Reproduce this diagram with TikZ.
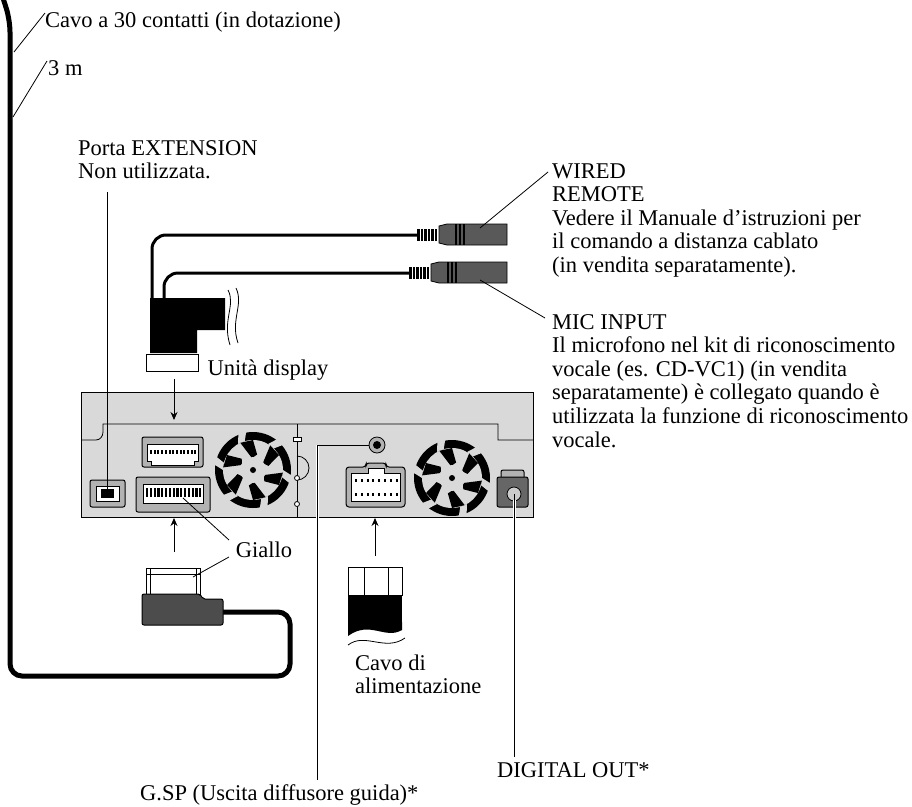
\documentclass[tikz,border=0pt]{standalone}
\usepackage{fontspec}
\setmainfont{Liberation Serif}
\usetikzlibrary{arrows.meta}
\begin{document}
\begin{tikzpicture}[x=1pt,y=-1pt,
  lbl/.style={anchor=base west,inner sep=0pt,font=\fontsize{22.5}{23.6}\selectfont,align=left},
  lead/.style={line width=0.8pt},
  arr/.style={line width=0.9pt,-{Stealth[length=8pt,width=7pt]}},
  thick cable/.style={line width=5pt,rounded corners=12pt},
  cable/.style={line width=3pt,rounded corners=14pt}]
\useasboundingbox (0,0) rectangle (912,806);
% main 30 pin cable
\draw[thick cable] (3,-2) -- (10,20) -- (10,676) -- (290,676) -- (290,612) -- (222,612);
% labels top-left
\node[lbl] (c30) at (45,27) {Cavo a 30 contatti (in dotazione)};
\draw[lead] (45,13) -- (14,52);
\node[lbl] (m3) at (48,75) {3 m};
\draw[lead] (47,61) -- (13,117);
% unit
\fill[gray!30] (81,392) rectangle (533,517);
\draw[line width=1pt] (81,392) rectangle (533,517);
\draw[line width=0.8pt] (81,440) -- (96,440) to[out=0,in=-90] (103,432) -- (103,424) -- (498,424) -- (498,440) -- (533,440);
\draw[line width=0.8pt] (297,424) -- (297,517);
\draw[line width=0.8pt,fill=white] (293,437) rectangle (301,441);
\draw[line width=0.8pt] (297,480) arc (-90:-270:-12 and -12);
\draw[line width=0.8pt,fill=white] (297,478) circle (2.5) (297,504) circle (2.5);
% extension port
\draw[line width=1pt,fill=gray!60,rounded corners=2pt] (90,480) rectangle (125,507);
\draw[line width=0.8pt,fill=white] (96,486) rectangle (119,501);
\fill (101,489) rectangle (114,498);
% upper connector
\draw[line width=1pt,fill=gray!60,rounded corners=2pt] (142,437) rectangle (203,467);
\draw[line width=0.8pt,fill=white] (147,444) -- (198,444) -- (198,461) -- (194,461) -- (194,465) -- (151,465) -- (151,461) -- (147,461) -- cycle;
\foreach \i in {0,...,12} \fill (150+3.7*\i,450) rectangle ++(2,4);
% yellow connector
\draw[line width=1pt,fill=gray!60,rounded corners=2pt] (136,477) rectangle (210,512);
\draw[line width=0.8pt,fill=white] (143,484) rectangle (203,503);
\foreach \i in {0,...,14} \fill (146+3.8*\i,488) rectangle ++(2.2,9);
% fans
\foreach \cx/\cy in {253/470,452/478}{
  \fill (\cx,\cy) circle (38);
  \fill[gray!30] (\cx,\cy) circle (30);
  \foreach \a in {0,60,...,300}{
    \fill[gray!30] ([shift={(\a:30)}]\cx,\cy) -- ([shift={(\a+8:39)}]\cx,\cy) -- ([shift={(\a+20:39)}]\cx,\cy) -- ([shift={(\a+14:30)}]\cx,\cy) -- cycle;
    \fill ([shift={(\a+25:12)}]\cx,\cy) -- ([shift={(\a+5:30)}]\cx,\cy) -- ([shift={(\a+30:30)}]\cx,\cy) -- ([shift={(\a+45:16)}]\cx,\cy) -- cycle;
  }
  \fill[gray!30] (\cx,\cy) circle (13);
  \fill (\cx,\cy) circle (3);
}
% jack
\draw[line width=0.8pt,fill=gray!60] (377,445) circle (8);
\fill (377,445) circle (4);
% power connector
\draw[line width=1pt,fill=gray!60,rounded corners=3pt] (346,467) -- (366,467) -- (366,463) -- (386,463) -- (386,467) -- (405,467) -- (405,507) -- (346,507) -- cycle;
\draw[line width=0.8pt,fill=white] (351,473) -- (368,473) -- (368,468) -- (384,468) -- (384,473) -- (400,473) -- (400,501) -- (351,501) -- cycle;
\foreach \i in {0,...,7} {\fill (355+5.8*\i,479) rectangle ++(2,2.5); \fill (355+5.8*\i,493) rectangle ++(2,2.5);}
% digital out
\draw[line width=1pt,fill=gray!60,rounded corners=2pt] (501,470) rectangle (524,480);
\draw[line width=1pt,fill=gray!80!black,rounded corners=2pt] (497,477) rectangle (528,507);
\draw[line width=0.8pt,fill=gray!40] (514,494) circle (7);
% leaders from unit
\draw[lead] (107,494) -- (107,192);
\draw[line width=3pt,white] (317,445) -- (317,530);
\draw[lead] (369,445) -- (317,445) -- (317,780);
\draw[line width=3pt,white] (514,500) -- (514,530);
\draw[lead] (514,494) -- (514,757);
\node[lbl] (ext) at (78,178.6) {Porta EXTENSION\\Non utilizzata.};
\node[lbl,anchor=base] (ud) at (268,375) {Unità display};
\node[lbl] (gsp) at (140,800) {G.SP (Uscita diffusore guida)*};
\node[lbl] (dig) at (497,777) {DIGITAL OUT*};
% top plug and cables
\draw[cable] (152,300) -- (152,235) -- (417,235);
\draw[cable] (164,300) -- (164,273) -- (409,273);
\fill (150,298) -- (225,298) -- (225,330) -- (197,330) -- (197,353) -- (150,353) -- cycle;
\draw[line width=1pt,fill=white] (146,354) rectangle (198,371);
\draw[line width=0.8pt] (228,290) .. controls (236,305) and (222,320) .. (230,345);
\draw[line width=0.8pt] (236,288) .. controls (244,305) and (230,320) .. (238,343);
% plugs
\foreach \y/\xs in {235/417,273/409}{
  \foreach \i in {0,...,5} \fill (\xs+3.5*\i,\y-6) rectangle ++(2.5,12);
  \draw[line width=0.8pt,fill=gray!70!black] (\xs+22,\y-9) -- (\xs+30,\y-11) -- (507,\y-11) -- (507,\y+10) -- (\xs+30,\y+10) -- (\xs+22,\y+8) -- cycle;
  \foreach \i in {0,1,2} \fill (\xs+38+4*\i,\y-11) rectangle ++(2,21);
}
\draw[lead] (480,228) -- (548,172);
\draw[lead] (480,280) -- (545,318);
\node[lbl] (wr) at (552,272.4) {WIRED\\REMOTE\\Vedere il Manuale d’istruzioni per\\il comando a distanza cablato\\(in vendita separatamente).};
\node[lbl] (mic) at (552,447) {MIC INPUT\\Il microfono nel kit di riconoscimento\\vocale (es. CD-VC1) (in vendita\\separatamente) è collegato quando è\\utilizzata la funzione di riconoscimento\\vocale.};
% arrows
\draw[arr] (174,379) -- (174,420);
\draw[arr] (174,552) -- (174,518);
\draw[arr] (375,556) -- (375,518);
% yellow plug
\draw[line width=0.8pt,fill=white] (146,568) rectangle (200,594);
\draw[line width=0.6pt] (150,568) -- (150,594) (196,568) -- (196,594) (146,574) -- (200,574);
\draw[line width=1pt,fill=gray!60!black,rounded corners=2pt] (142,594) -- (200,594) -- (203,599) -- (223,599) -- (223,625) -- (142,625) -- cycle;
\node[lbl,anchor=base] (gl) at (264,557) {Giallo};
\draw[lead] (183,498) -- (229,540);
\draw[lead] (193,577) -- (229,557);
% power plug
\draw[line width=1pt,fill=white] (348,567) rectangle (402,595);
\draw[line width=1pt] (364,567) -- (364,595) (388,567) -- (388,595);
\fill (348,595) rectangle (402,622);
\fill (348,622) -- (402,622) -- (402,630) .. controls (385,640) and (370,620) .. (348,636) -- cycle;
\draw[line width=0.8pt] (348,645) .. controls (365,632) and (385,652) .. (405,638);
\node[lbl] (cav) at (355,693.6) {Cavo di\\alimentazione};
\end{tikzpicture}
\end{document}
